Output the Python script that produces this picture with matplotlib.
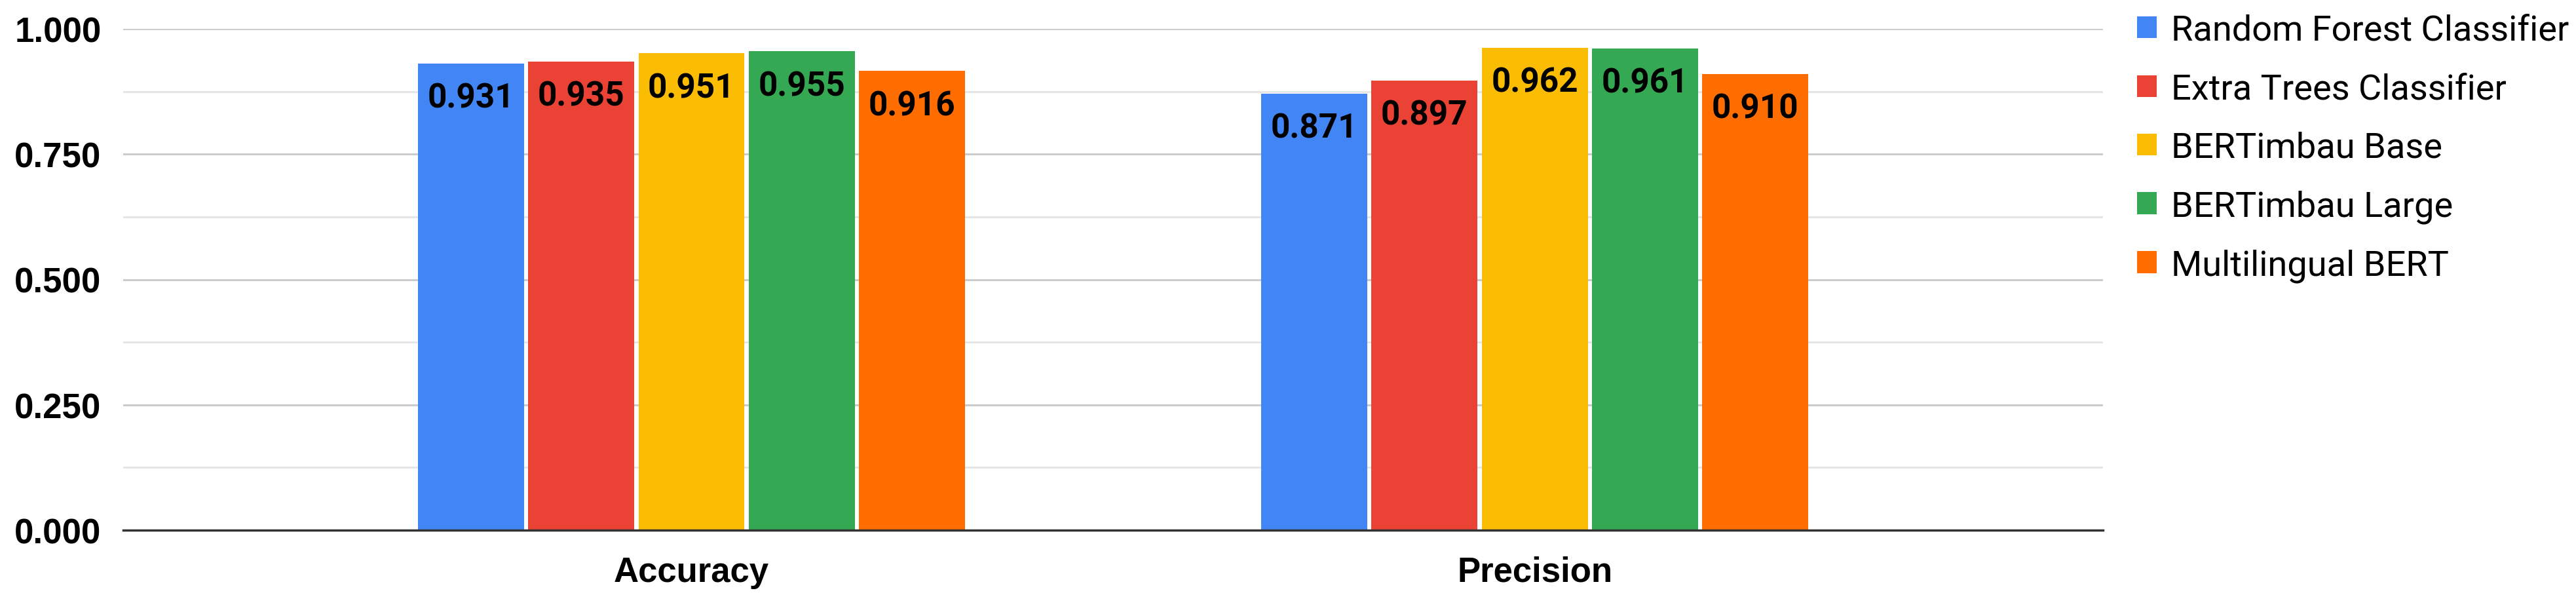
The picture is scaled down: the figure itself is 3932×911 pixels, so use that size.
import numpy as np
from matplotlib import pyplot as plt
from matplotlib.patches import Patch

categories = ["Accuracy", "Precision"]
models = ["Random Forest Classifier", "Extra Trees Classifier", "BERTimbau Base",
          "BERTimbau Large", "Multilingual BERT"]
scores = {
    "Random Forest Classifier": [0.931, 0.871],
    "Extra Trees Classifier": [0.935, 0.897],
    "BERTimbau Base": [0.951, 0.962],
    "BERTimbau Large": [0.955, 0.961],
    "Multilingual BERT": [0.916, 0.910],
}
colors = ["#4285F4", "#EA4335", "#FBBC04", "#34A853", "#FF6D01"]
y_ticks = [0.0, 0.25, 0.5, 0.75, 1.0]
y_tick_labels = ["0.000", "0.250", "0.500", "0.750", "1.000"]


def draw_chart():
    fig = plt.figure(figsize=(39.32, 9.12), dpi=100)
    ax = fig.add_axes([0.0478, 0.1118, 0.7686, 0.8389])

    x = np.arange(len(categories))
    step = 0.1307
    width = 0.1258

    for i, model in enumerate(models):
        xs = x + (i - 2) * step
        vals = scores[model]
        ax.bar(xs, vals, width=width, color=colors[i], zorder=3, linewidth=0)
        for xi, v in zip(xs, vals):
            ax.annotate(f"{v:.3f}", (xi, v), xytext=(0, -38), textcoords="offset points",
                        ha="center", va="center", fontsize=37, fontweight="bold",
                        family="Roboto", color="black", zorder=4)

    ax.set_xlim(-0.674, 1.674)
    ax.set_ylim(0, 1.0)

    ax.set_yticks(y_ticks)
    ax.set_yticklabels(y_tick_labels, fontsize=38, fontweight="bold", family="Liberation Sans")
    ax.set_yticks(np.arange(0.125, 1.0, 0.25), minor=True)
    ax.set_xticks(x)
    ax.set_xticklabels(categories, fontsize=38, fontweight="bold", family="Liberation Sans")

    ax.tick_params(axis="y", which="both", length=0, pad=24)
    ax.tick_params(axis="x", length=0, pad=28)

    ax.grid(axis="y", which="major", color="#cccccc", linewidth=2.2, zorder=0)
    ax.grid(axis="y", which="minor", color="#e6e6e6", linewidth=2.2, zorder=0)

    for side in ["top", "right", "left"]:
        ax.spines[side].set_visible(False)
    ax.spines["bottom"].set_color("#333333")
    ax.spines["bottom"].set_linewidth(2.5)
    ax.spines["bottom"].set_zorder(5)

    handles = [Patch(facecolor=c, edgecolor="none") for c in colors]
    fig.legend(handles, models, loc="upper left", bbox_to_anchor=(0.8295, 0.976),
               frameon=False, prop={"family": "Roboto", "size": 39},
               handlelength=0.57, handleheight=0.57, handletextpad=0.4,
               labelspacing=0.71, borderpad=0, borderaxespad=0)

    fig.savefig("out.png", dpi=100, facecolor="white")


if __name__ == "__main__":
    draw_chart()
